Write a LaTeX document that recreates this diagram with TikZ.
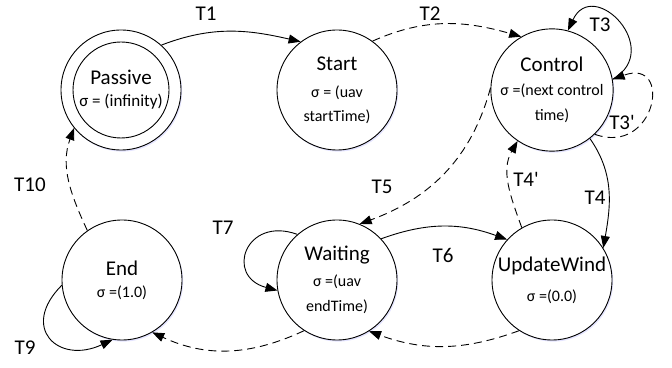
\documentclass[tikz,border=0pt]{standalone}
\usepackage{fontspec}
\setmainfont{Carlito}
\usetikzlibrary{arrows.meta,shadows}
\newcommand{\sgm}[1]{{\fontsize{16}{22}\selectfont #1}}
\begin{document}
\begin{tikzpicture}[x=1pt,y=1pt,
	stnode/.style={circle, draw, fill=white, line width=0.9pt, minimum size=120pt, inner sep=0pt, align=center,
		drop shadow={shadow xshift=1.2pt, shadow yshift=-1.6pt, fill=blue!30, opacity=0.35}},
	trans/.style={line width=0.9pt, -{Triangle[length=12pt,width=9pt]}},
	dtrans/.style={trans, dash pattern=on 8pt off 5pt},
	lbl/.style={font=\fontsize{21}{22}\selectfont},
	every node/.append style={font=\fontsize{21}{22}\selectfont}]
			\useasboundingbox (0,0) rectangle (672,367);
			\node[stnode] (passive) at (121,277) {};
			\node[circle, draw, line width=0.9pt, minimum size=96pt, inner sep=0pt, align=center] (passive-in) at (passive) {Passive\\{\fontsize{17}{22}\selectfont σ = (infinity)}};
			\node[stnode] (start) at (337,277) {Start\\[5pt]\sgm{σ = (uav}\\[2pt]\sgm{startTime)}};
			\node[stnode] (control) at (552,277) {Control\\[2pt]\sgm{σ =(next control}\\[3pt]\sgm{time)}};
			\node[stnode] (endst) at (122,87) {End\\\sgm{σ =(1.0)}};
			\node[stnode] (waiting) at (337,87) {Waiting\\[4pt]\sgm{σ =(uav}\\[3pt]\sgm{endTime)}};
			\node[stnode] (updwind) at (552,87) {UpdateWind\\[8pt]\sgm{σ =(0.0)}};
			\draw[trans] (passive.48) to[out=21, in=167] (start.127);
			\draw[dtrans] (start.54) to[out=24, in=164] (control.120);
			\draw[trans] (control.10) .. controls +(30:60) and +(65:60) .. (control.75);
			\draw[dtrans] (control.-46) .. controls +(-20:65) and +(20:65) .. (control.10);
			\draw[trans] (control.-52) to[out=-55, in=80] (updwind.32);
			\draw[dtrans] (updwind.120) to[out=110, in=-120] (control.-124);
			\draw[dtrans] (control.178) to[out=-105, in=20] (waiting.68);
			\draw[trans] (waiting.43) to[out=20, in=160] (updwind.138);
			\draw[dtrans] (updwind.-123) to[out=-160, in=-20] (waiting.-58);
			\draw[dtrans] (waiting.-123) to[out=-155, in=-25] (endst.-60);
			\draw[trans] (waiting.131) .. controls +(160:55) and +(165:55) .. (waiting.-170);
			\draw[trans] (endst.-175) .. controls +(-135:60) and +(-155:60) .. (endst.-99);
			\draw[dtrans] (endst.125) to[out=115, in=-110] (passive.-141);
			\node[lbl] (t1) at (206,353) {T1};
			\node[lbl] (t2) at (430,353) {T2};
			\node[lbl] (t3) at (600,342) {T3};
			\node[lbl] (t3b) at (622,245) {T3\textquotesingle};
			\node[lbl] (t4) at (595,169) {T4};
			\node[lbl] (t4b) at (526,188) {T4\textquotesingle};
			\node[lbl] (t5) at (382,180) {T5};
			\node[lbl] (t6) at (443,112) {T6};
			\node[lbl] (t7) at (223,139) {T7};
			\node[lbl] (t9) at (25,19) {T9};
			\node[lbl] (t10) at (30,182) {T10};
\end{tikzpicture}
\end{document}
